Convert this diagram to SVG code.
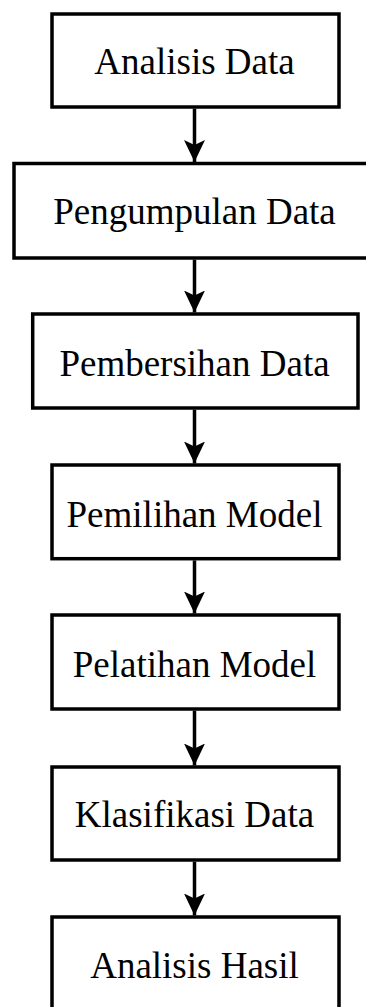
<svg xmlns="http://www.w3.org/2000/svg" width="366" height="1007" viewBox="0 0 366 1007">
  <style>
    .box { fill: #ffffff; stroke: #000000; stroke-width: 3.5; }
    .label { font-family: "Liberation Serif", "Times New Roman", serif; font-size: 37px; fill: #000000; text-anchor: middle; }
    .flow { stroke: #000000; stroke-width: 3.5; fill: none; marker-end: url(#arrow); }
  </style>
  <defs>
    <marker id="arrow" markerUnits="userSpaceOnUse" markerWidth="24" markerHeight="24" viewBox="0 0 24 24" refX="22" refY="12" orient="auto">
      <path d="M0,1.5 L22,12 L0,22.5 L5,12 Z" fill="#000000"/>
    </marker>
  </defs>
  <rect width="366" height="1007" fill="#ffffff"/>

  <!-- process steps -->
  <g id="node-analisis-data">
    <rect class="box" x="52" y="14" width="287" height="93"/>
    <text class="label" x="194.5" y="74">Analisis Data</text>
  </g>
  <g id="node-pengumpulan-data">
    <rect class="box" x="14" y="163.5" width="362" height="94.5"/>
    <text class="label" x="194.5" y="224">Pengumpulan Data</text>
  </g>
  <g id="node-pembersihan-data">
    <rect class="box" x="32.7" y="314" width="325.3" height="94"/>
    <text class="label" x="194.5" y="375.5">Pembersihan Data</text>
  </g>
  <g id="node-pemilihan-model">
    <rect class="box" x="52" y="465" width="287" height="93.7"/>
    <text class="label" x="194.5" y="526.5">Pemilihan Model</text>
  </g>
  <g id="node-pelatihan-model">
    <rect class="box" x="52" y="615" width="287" height="94"/>
    <text class="label" x="194.5" y="677">Pelatihan Model</text>
  </g>
  <g id="node-klasifikasi-data">
    <rect class="box" x="52" y="767" width="287" height="93"/>
    <text class="label" x="194.5" y="827">Klasifikasi Data</text>
  </g>
  <g id="node-analisis-hasil">
    <rect class="box" x="52" y="917" width="287" height="100"/>
    <text class="label" x="194.5" y="978">Analisis Hasil</text>
  </g>

  <!-- connectors -->
  <g id="connectors">
    <line class="flow" x1="194.5" y1="108.7" x2="194.5" y2="162"/>
    <line class="flow" x1="194.5" y1="259.7" x2="194.5" y2="312.5"/>
    <line class="flow" x1="194.5" y1="409.7" x2="194.5" y2="463.5"/>
    <line class="flow" x1="194.5" y1="560.4" x2="194.5" y2="613.5"/>
    <line class="flow" x1="194.5" y1="710.7" x2="194.5" y2="765.5"/>
    <line class="flow" x1="194.5" y1="861.7" x2="194.5" y2="915.5"/>
  </g>
</svg>
